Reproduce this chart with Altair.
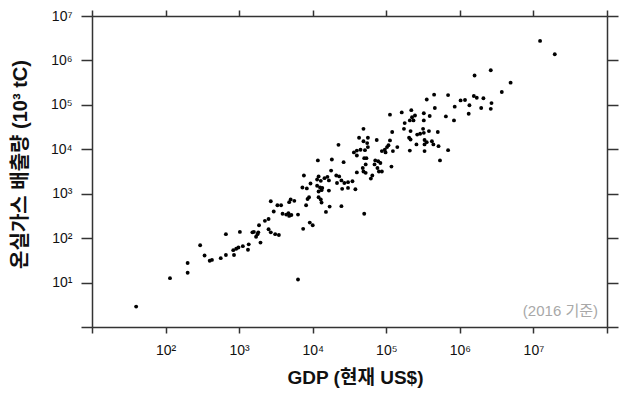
import altair as alt
import pandas as pd

# log10 of GDP (현재 US$) and log10 of greenhouse-gas emissions (10^3 tC)
gdp_log10 = [
    1.60, 2.06, 2.30, 2.30, 2.47, 2.53, 2.60, 2.63, 2.75, 2.82, 2.82, 2.92, 2.96, 2.93, 2.99,
    3.01, 3.05, 3.12, 3.13, 3.18, 3.20, 3.25, 3.26, 3.23, 3.27, 3.29, 3.35, 3.40, 3.40, 3.43,
    3.49, 3.54, 3.47, 3.43, 3.52, 3.57, 3.59, 3.64, 3.67, 3.68, 3.71, 3.68, 3.70, 3.75, 3.80,
    3.80, 3.87, 3.96, 4.00, 3.91, 4.35, 4.07, 4.26, 4.42, 3.88, 4.25, 4.08, 4.06, 4.11, 4.16,
    4.20, 4.22, 4.32, 4.36, 4.39, 4.33, 4.43, 4.48, 4.54, 4.48, 4.58, 3.97, 3.86, 3.92, 4.06,
    4.10, 4.13, 4.08, 4.12, 4.22, 4.40, 3.95, 3.93, 4.08, 4.11, 4.12, 4.23, 4.39, 4.18, 4.63,
    4.69, 4.56, 4.60, 4.60, 4.71, 4.70, 4.60, 4.68, 4.69, 4.70, 5.65, 5.55, 5.66, 5.05, 5.21,
    5.34, 5.51, 5.59, 5.39, 5.35, 5.32, 5.25, 5.37, 5.51, 5.24, 5.33, 5.42, 5.46, 5.50, 5.51,
    5.58, 5.70, 5.31, 5.33, 5.41, 5.52, 5.55, 5.62, 5.64, 5.52, 5.71, 5.32, 5.52, 5.73, 5.08,
    4.69, 4.74, 4.75, 4.87, 5.05, 5.03, 5.01, 4.98, 4.94, 4.99, 5.09, 5.15, 4.75, 4.65, 4.73,
    4.72, 4.85, 4.89, 4.92, 4.84, 4.88, 4.90, 4.94, 5.07, 4.72, 4.81, 4.79, 7.09, 7.29, 6.42,
    6.20, 6.69, 6.57, 5.84, 6.19, 6.23, 6.32, 6.01, 6.07, 6.43, 5.93, 6.13, 6.29, 6.42, 6.12,
    5.81, 5.92, 5.84,
]
emis_log10 = [
    0.46, 1.10, 1.44, 1.22, 1.84, 1.61, 1.49, 1.51, 1.55, 2.09, 1.62, 1.73, 1.76, 1.62, 1.79,
    2.14, 1.82, 1.74, 1.86, 2.13, 2.14, 2.09, 2.13, 2.03, 2.29, 1.90, 2.39, 2.43, 2.20, 2.13,
    2.09, 2.07, 2.60, 2.83, 2.74, 2.74, 2.55, 2.53, 2.56, 2.50, 2.52, 2.81, 2.87, 2.84, 2.53,
    1.07, 2.21, 2.35, 2.29, 2.74, 4.10, 3.75, 3.77, 3.71, 3.41, 3.52, 3.39, 3.32, 3.29, 3.35,
    3.38, 3.30, 3.41, 3.39, 3.30, 3.24, 3.24, 3.26, 3.28, 3.13, 3.10, 3.23, 3.14, 3.12, 3.18,
    3.14, 3.13, 3.05, 3.08, 3.07, 3.11, 2.92, 2.88, 2.92, 2.87, 2.80, 2.71, 2.72, 2.59, 4.26,
    4.18, 3.93, 3.97, 3.86, 3.98, 3.80, 3.48, 3.58, 3.50, 2.55, 5.23, 5.12, 4.93, 4.78, 4.83,
    4.88, 4.81, 4.75, 4.76, 4.72, 4.65, 4.59, 4.65, 4.65, 4.46, 4.41, 4.33, 4.35, 4.46, 4.37,
    4.41, 4.39, 4.26, 4.22, 4.11, 4.21, 4.16, 4.18, 4.11, 4.11, 4.07, 3.97, 3.96, 3.75, 4.39,
    4.46, 4.14, 4.26, 4.21, 4.20, 4.09, 4.05, 3.99, 3.96, 3.93, 3.96, 4.05, 4.05, 3.99, 3.80,
    3.66, 3.75, 3.73, 3.69, 3.66, 3.58, 3.50, 3.50, 3.61, 3.47, 3.41, 3.34, 6.44, 6.14, 5.78,
    5.66, 5.50, 5.29, 5.22, 5.20, 5.16, 5.15, 5.10, 5.11, 5.04, 4.96, 4.99, 4.93, 4.91, 4.80,
    4.74, 4.65, 3.98,
]

x_ticks = [10, 100, 1000, 10000, 100000, 1000000, 10000000, 100000000]
y_ticks = [1, 10, 100, 1000, 10000, 100000, 1000000, 10000000]
x_title = "GDP  (현재 US$)"
y_title = "온실가스 배출량  (10³ tC)"
note = "(2016 기준)"

df = pd.DataFrame({
    "gdp": [10 ** v for v in gdp_log10],
    "emis": [10 ** v for v in emis_log10],
})

SUP = "['⁰','¹','²','³','⁴','⁵','⁶','⁷','⁸']"


def label_expr(lo, hi):
    return (f"datum.value < {lo} || datum.value > {hi} ? '' : "
            f"'10' + {SUP}[round(log(datum.value) / LN10)]")


LATIN = "Liberation Sans"
TITLE_FONT = "Liberation Sans, Noto Sans CJK KR"
AX = "#333333"

xscale = alt.Scale(type="log", domain=[10, 1e8], nice=False)
yscale = alt.Scale(type="log", domain=[1, 1e7], nice=False)

common = dict(
    domainColor=AX, domainWidth=1.5, tickColor=AX, tickWidth=1.5, grid=False,
    labelFont=LATIN, labelFontSize=14, labelColor="#111111",
    labelOverlap=False, labelFlush=False,
)

base = alt.Chart(df)

points = base.mark_circle(size=15, color="black", opacity=1).encode(
    x=alt.X("gdp:Q", scale=xscale, axis=alt.Axis(
        orient="bottom", values=x_ticks, tickSize=6, labelExpr=label_expr(50, 5e7),
        labelPadding=10, title=x_title, titleFont=TITLE_FONT, titleFontSize=19,
        titleFontWeight="bold", titleColor="#111111",
        titleX=263, titleY=56, titleBaseline="alphabetic", titleAlign="center",
        **common)),
    y=alt.Y("emis:Q", scale=yscale, axis=alt.Axis(
        orient="left", values=y_ticks, tickSize=11, labelExpr=label_expr(5, 5e7),
        labelPadding=9, title=y_title, titleFont=TITLE_FONT, titleFontSize=20,
        titleFontWeight="bold", titleColor="#111111",
        titleX=-72, titleY=148, titleBaseline="middle", titleAlign="center",
        **common)),
)

frame = base.mark_circle(opacity=0).encode(
    x=alt.X("gdp:Q", scale=xscale, axis=alt.Axis(
        orient="top", values=x_ticks, tickSize=6, labels=False, title="", **common)),
    y=alt.Y("emis:Q", scale=yscale, axis=alt.Axis(
        orient="right", values=y_ticks, tickSize=11, labels=False, title="", **common)),
)

note_layer = alt.Chart(pd.DataFrame({"t": [note]})).mark_text(
    align="right", baseline="alphabetic", color="#a8a8a8", fontSize=15, font=TITLE_FONT
).encode(x=alt.value(506), y=alt.value(300), text="t:N")

chart = alt.layer(points, frame, note_layer).resolve_scale(
    x="independent", y="independent"
).properties(
    width=515, height=311,
    padding={"left": 2, "top": 1, "right": 5, "bottom": 5},
).configure_view(strokeWidth=0)

chart.save("out.html", embed_options={"renderer": "svg", "actions": False})
